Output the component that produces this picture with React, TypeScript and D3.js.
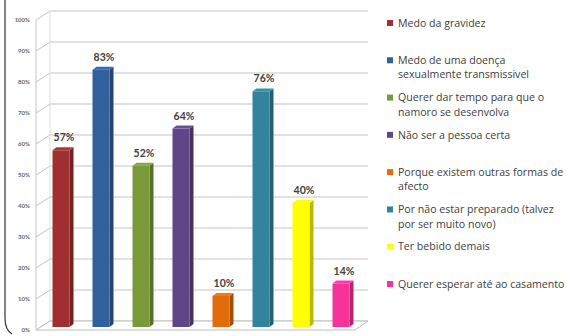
import React from "react";
import * as d3 from "d3";

const categories = [
  "Medo da gravidez",
  "Medo de uma doença sexualmente transmissivel",
  "Querer dar tempo para que o namoro se desenvolva",
  "Não ser a pessoa certa",
  "Porque existem outras formas de afecto",
  "Por não estar preparado (talvez por ser muito novo)",
  "Ter bebido demais",
  "Querer esperar até ao casamento",
];
const legendLines = [
  ["Medo da gravidez"],
  ["Medo de uma doença", "sexualmente transmissivel"],
  ["Querer dar tempo para que o", "namoro se desenvolva"],
  ["Não ser a pessoa certa"],
  ["Porque existem outras formas de", "afecto"],
  ["Por não estar preparado (talvez", "por ser muito novo)"],
  ["Ter bebido demais"],
  ["Querer esperar até ao casamento"],
];
const values = [57, 83, 52, 64, 10, 76, 40, 14];
const colors = ["#A0302F", "#31609C", "#789A3A", "#5F4687", "#E36C0A", "#31849B", "#FFFF00", "#F7339A"];
const yTicks = [0, 10, 20, 30, 40, 50, 60, 70, 80, 90, 100];

export default function App() {
  const W = 567, H = 336;
  const x = d3.scaleBand<string>().domain(categories).range([41, 361]).paddingInner(0.575).paddingOuter(0.2875);
  const y = d3.scaleLinear().domain([0, 100]).range([321, 11]);
  const dx = 4, dy = 3, front = 6;
  const wallX = 50, frontX = 36;
  const legendY = d3.scaleLinear().domain([0, 7]).range([23, 284]);

  return (
    <svg width={W} height={H} style={{ position: "absolute", left: 0, top: 0, background: "#fff" }}>
      {/* frame */}
      <path d={`M5,0 L5,318 Q5,330 12,334`} fill="none" stroke="#333" strokeWidth={1.2} />
      {/* back wall gridlines */}
      {yTicks.map((t) => (
        <g key={t}>
          <line x1={wallX} x2={368} y1={y(t)} y2={y(t)} stroke="#C4C4C4" strokeWidth={1} />
          <line x1={frontX} x2={wallX} y1={y(t) + 9} y2={y(t)} stroke="#C4C4C4" strokeWidth={1} />
          <text x={30} y={y(t) + 11} textAnchor="end" fontFamily="Lato, sans-serif" fontSize={6} fontWeight="bold" fill="#666">
            {t}%
          </text>
        </g>
      ))}
      <line x1={frontX} x2={frontX} y1={y(100) + 9} y2={y(0) + 9} stroke="#C4C4C4" strokeWidth={1} />
      <line x1={wallX} x2={wallX} y1={y(100)} y2={y(0)} stroke="#DDD" strokeWidth={1} />
      {/* floor */}
      <path d={`M${frontX},${y(0) + 9} L355,${y(0) + 9} L368,${y(0)} L${wallX},${y(0)} Z`} fill="#fff" stroke="#BDBDBD" strokeWidth={1} />
      {/* bars */}
      {categories.map((c, i) => {
        const x0 = x(c)!;
        const bw = x.bandwidth();
        const top = y(values[i]) + front;
        const bot = y(0) + front;
        const col = d3.color(colors[i])!;
        const side = col.darker(0.9).formatHex();
        const lid = col.brighter(0.3).formatHex();
        return (
          <g key={c}>
            <polygon points={`${x0 + bw},${top} ${x0 + bw + dx},${top - dy} ${x0 + bw + dx},${bot - dy} ${x0 + bw},${bot}`} fill={side} />
            <polygon points={`${x0},${top} ${x0 + dx},${top - dy} ${x0 + bw + dx},${top - dy} ${x0 + bw},${top}`} fill={lid} />
            <rect x={x0} y={top} width={bw} height={bot - top} fill={colors[i]} />
            <text x={x0 + bw / 2 + 3} y={top - 9} textAnchor="middle" fontFamily="Lato, sans-serif" fontSize={10.5} fontWeight="bold" fill="#404040">
              {values[i]}%
            </text>
          </g>
        );
      })}
      {/* legend */}
      {legendLines.map((lines, i) => {
        const ly = legendY(i);
        return (
          <g key={i}>
            <rect x={387} y={ly - 3} width={6} height={6} fill={colors[i]} />
            {lines.map((ln, j) => (
              <text key={j} x={398} y={ly + 3.7 + j * 14.5} fontFamily="'Open Sans', sans-serif" fontSize={10.6} fill="#404040">
                {ln}
              </text>
            ))}
          </g>
        );
      })}
    </svg>
  );
}
